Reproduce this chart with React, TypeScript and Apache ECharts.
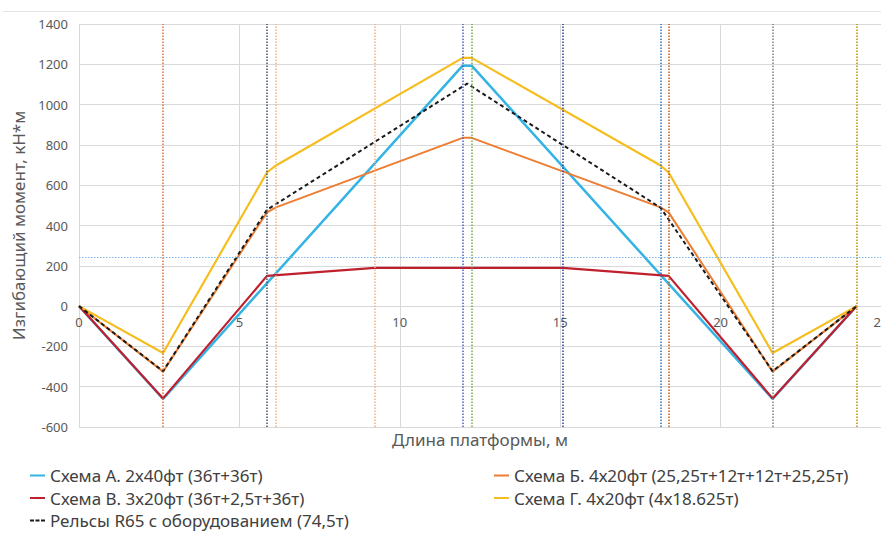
import React, { useEffect, useRef } from "react";
import * as echarts from "echarts";

// ---- data ----
const schemeAX = [0, 2.62, 11.96, 12.24, 21.62, 24.24];
const schemeAY = [0, -460, 1193, 1193, -460, 0];

const schemeBX = [0, 2.62, 5.86, 6.14, 11.96, 12.24, 18.13, 18.38, 21.62, 24.24];
const schemeBY = [0, -325, 465, 490, 835, 835, 490, 465, -325, 0];

const schemeVX = [0, 2.62, 5.86, 9.22, 15.08, 18.38, 21.62, 24.24];
const schemeVY = [0, -458, 150, 190, 190, 150, -458, 0];

const schemeGX = [0, 2.62, 5.86, 6.14, 11.96, 12.24, 18.13, 18.38, 21.62, 24.24];
const schemeGY = [0, -233, 663, 698, 1232, 1232, 698, 663, -233, 0];

const railsX = [0, 2.62, 5.86, 12.1, 18.13, 21.62, 24.24];
const railsY = [0, -323, 478, 1104, 488, -323, 0];

const markerX = [2.62, 5.86, 6.14, 9.22, 11.96, 12.24, 15.08, 18.13, 18.38, 21.62, 24.24];
const markerColors = ["#E0703A", "#44546A", "#F4B183", "#F4B183", "#4F5FC4", "#70AD47", "#2F3E9E", "#2E75B6", "#C55A11", "#7F7F7F", "#BF9000"];
const thresholdY = 243;

const seriesNames = [
  "Схема А. 2х40фт (36т+36т)",
  "Схема Б. 4х20фт (25,25т+12т+12т+25,25т)",
  "Схема В. 3х20фт (36т+2,5т+36т)",
  "Схема Г. 4х20фт (4х18.625т)",
  "Рельсы R65 с оборудованием (74,5т)",
];

const yTitle = "Изгибающий момент, кН*м";
const xTitle = "Длина платформы, м";

const pairs = (xs: number[], ys: number[]) => xs.map((x, i) => [x, ys[i]]);

const FONT = "'Noto Sans', sans-serif";

export default function App() {
  const ref = useRef<HTMLDivElement>(null);
  useEffect(() => {
    if (!ref.current) return;
    const chart = echarts.init(ref.current, null, { renderer: "svg" });
    const lineSeries = (name: string, data: number[][], color: string, width: number, type: any = "solid", z = 3) => ({
      name,
      type: "line",
      data,
      symbol: "none",
      showSymbol: false,
      z,
      lineStyle: { color, width, type },
      itemStyle: { color },
    });
    const legendText = { fontFamily: FONT, fontSize: 17, color: "#404040", lineHeight: 17 };
    const gridTop = 24;
    const gridBottom = 112;
    const plotH = 539 - gridTop - gridBottom;
    const zeroFromBottom = (600 / 2000) * plotH;
    chart.setOption({
      animation: false,
      textStyle: { fontFamily: FONT },
      grid: { left: 79, right: 0, top: gridTop, bottom: gridBottom, containLabel: false, outerBoundsMode: "none" },
      xAxis: {
        type: "value",
        min: 0,
        max: 25,
        interval: 5,
        offset: -zeroFromBottom,
        axisLine: { show: false, onZero: false },
        axisTick: { show: false },
        axisLabel: { color: "#595959", fontSize: 13, margin: 9, fontFamily: FONT },
        splitLine: { show: true, lineStyle: { color: "#D9D9D9", width: 1 } },
      },
      yAxis: {
        type: "value",
        min: -600,
        max: 1400,
        interval: 200,
        name: yTitle,
        nameLocation: "middle",
        nameGap: 34,
        nameTextStyle: { color: "#595959", fontSize: 17, fontFamily: FONT },
        axisLine: { show: false },
        axisTick: { show: false },
        axisLabel: {
          color: "#595959",
          fontSize: 13,
          margin: 11,
          fontFamily: FONT,
          formatter: (v: number) => String(v),
        },
        splitLine: { show: true, lineStyle: { color: "#D9D9D9", width: 1 } },
      },
      legend: [
        {
          left: 25,
          top: 462,
          orient: "vertical",
          itemWidth: 15,
          itemHeight: 2,
          itemGap: 5.5,
          textStyle: legendText,
          data: [
            { name: seriesNames[0], icon: "rect" },
            { name: seriesNames[2], icon: "rect" },
            { name: seriesNames[4], icon: "path://M0,0h4v2h-4z M5.5,0h4v2h-4z M11,0h4v2h-4z" },
          ],
        },
        {
          left: 489,
          top: 462,
          orient: "vertical",
          itemWidth: 15,
          itemHeight: 2,
          itemGap: 5.5,
          textStyle: legendText,
          data: [
            { name: seriesNames[1], icon: "rect" },
            { name: seriesNames[3], icon: "rect" },
          ],
        },
      ],
      graphic: [
        {
          type: "line",
          shape: { x1: 3, y1: 11.5, x2: 881, y2: 11.5 },
          style: { stroke: "#E3E3E3", lineWidth: 1 },
          silent: true,
        },
        {
          type: "text",
          x: 480,
          y: 431,
          style: { text: xTitle, fill: "#595959", fontSize: 17, fontFamily: FONT, textAlign: "center" },
          silent: true,
        },
      ],
      series: [
        {
          name: "markers",
          type: "line",
          data: [],
          z: 1,
          silent: true,
          markLine: {
            silent: true,
            symbol: "none",
            label: { show: false },
            data: [
              ...markerX.map((x, i) => ({
                xAxis: x,
                lineStyle: { color: markerColors[i], width: 1.5, type: [1.5, 1.5] },
              })),
              { yAxis: thresholdY, lineStyle: { color: "#7DB3E8", width: 1.2, type: [1.5, 1.5] } },
            ],
          },
        },
        lineSeries(seriesNames[0], pairs(schemeAX, schemeAY), "#33B4E4", 2.5),
        lineSeries(seriesNames[1], pairs(schemeBX, schemeBY), "#ED7D31", 2),
        lineSeries(seriesNames[2], pairs(schemeVX, schemeVY), "#C0202E", 2.2),
        lineSeries(seriesNames[3], pairs(schemeGX, schemeGY), "#F5BE1E", 2.2),
        lineSeries(seriesNames[4], pairs(railsX, railsY), "#1A1A1A", 2, [4, 3], 4),
      ],
    });
    return () => chart.dispose();
  }, []);
  return (
    <div
      ref={ref}
      style={{ position: "fixed", left: 0, top: 0, width: 881, height: 539, background: "#fff" }}
    />
  );
}
